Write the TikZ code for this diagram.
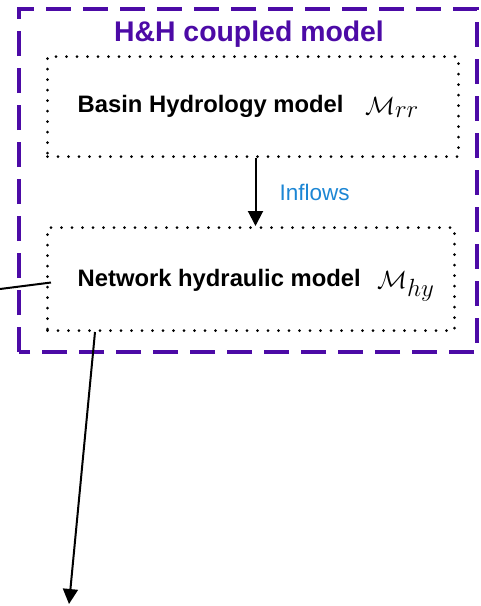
\documentclass[tikz,border=0pt]{standalone}
\usepackage{fontspec}
\setsansfont{Liberation Sans}
\usetikzlibrary{arrows.meta}
\definecolor{hhpurple}{RGB}{76,10,166}
\definecolor{flowblue}{RGB}{28,134,212}
\tikzset{
  coupled/.style={draw=hhpurple, line width=4pt, dash pattern=on 25pt off 12pt},
  submodel/.style={draw=black, line width=3pt, line cap=round, dash pattern=on 0pt off 10.5pt},
  modeltext/.style={font=\sffamily\bfseries\fontsize{23.8}{28}\selectfont, anchor=base west, inner sep=0pt},
  modelsym/.style={font=\fontsize{33}{38}\selectfont, anchor=base west, inner sep=0pt},
  link/.style={draw=black, line width=2pt},
  tip/.style={-{Triangle[length=15pt,width=15pt]}}
}
\begin{document}
\begin{tikzpicture}[x=1pt,y=-1pt]
  \useasboundingbox (0,0) rectangle (481,606);
  % outer coupled-model frame
  \draw[coupled] (19,352) -- (19,9) -- (477,9) -- (477,352) -- cycle;
  \node[font=\sffamily\bfseries\fontsize{28.4}{34}\selectfont, text=hhpurple, anchor=base, inner sep=0pt] (title) at (249,41.5) {H\&H coupled model};
  % sub-models
  \node[submodel, minimum width=411pt, minimum height=100pt, anchor=north west] (basin) at (46,55) {};
  \node[submodel, minimum width=407pt, minimum height=103pt, anchor=north west] (network) at (46,226) {};
  \node[modeltext] (basintext) at (77.5,112.5) {Basin Hydrology model};
  \node[modelsym] (basinsym) at (365,114) {$\mathcal{M}_{rr}$};
  \node[modeltext] (networktext) at (77.5,286) {Network hydraulic model};
  \node[modelsym] (networksym) at (377,288) {$\mathcal{M}_{hy}$};
  % inflows between the two sub-models
  \coordinate (inflowtop) at ([xshift=2.5pt]basin.south);
  \draw[link, tip] (inflowtop) -- (inflowtop |- network.north)
    node[midway, right=23pt, font=\sffamily\fontsize{22.5}{27}\selectfont, text=flowblue, inner sep=0pt] (inflows) {Inflows};
  % external links
  \coordinate (upstream) at (0,289);
  \coordinate (downstream) at (69,604);
  \draw[link] (upstream) -- ([xshift=5pt,yshift=-3.5pt]network.west);
  \draw[link, tip] ([xshift=49pt]network.south west) -- (downstream);
\end{tikzpicture}
\end{document}
